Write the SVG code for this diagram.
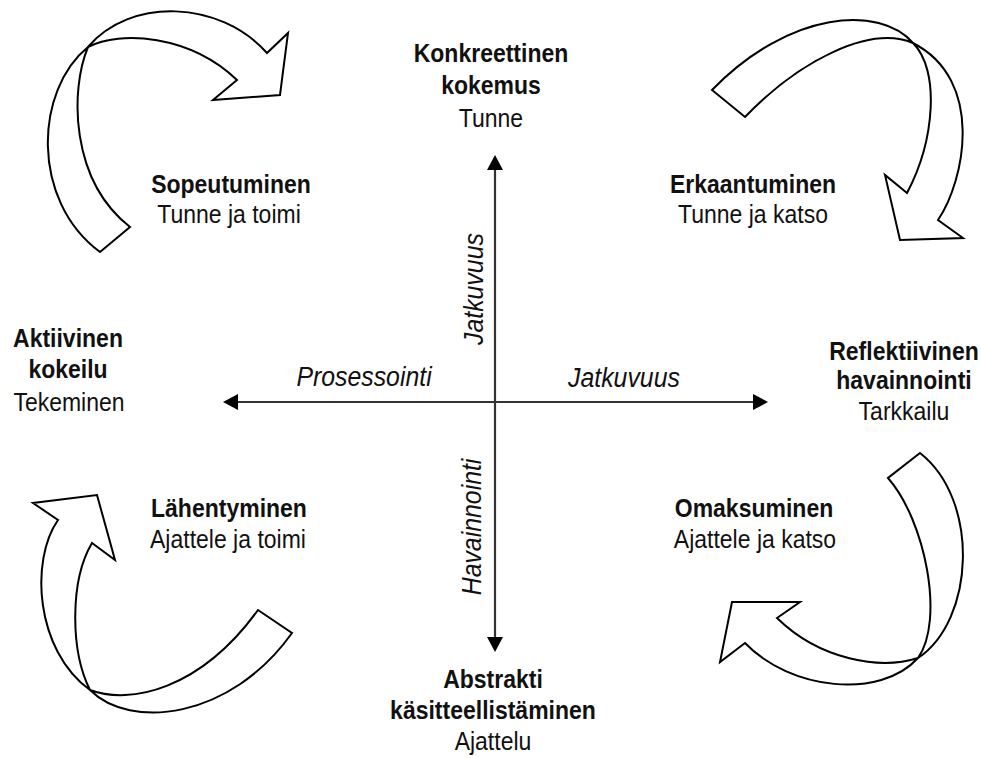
<svg xmlns="http://www.w3.org/2000/svg" width="981" height="758" viewBox="0 0 981 758">
<style>
text{font-family:"Liberation Sans",Arial,sans-serif;font-size:25px;fill:#111;text-anchor:middle;transform-box:fill-box;transform-origin:center;transform:scaleX(0.92)}
.b{font-weight:bold}
.i{font-style:italic;font-size:27px}
.arc{fill:#fff;stroke:#000;stroke-width:2;stroke-linejoin:miter}
.ax{stroke:#333;stroke-width:2.2;fill:none}
.hd{fill:#000}
</style>
<g id="connectors">
<line class="ax" x1="495" y1="168" x2="495" y2="639"/>
<path class="hd" d="M495,155 L503,170 L487,170 Z"/>
<path class="hd" d="M495,652 L503,637 L487,637 Z"/>
<line class="ax" x1="236" y1="402" x2="754" y2="402"/>
<path class="hd" d="M223,402 L238,394 L238,410 Z"/>
<path class="hd" d="M768,402 L753,394 L753,410 Z"/>
</g>
<g id="arrow-topleft">
<path class="arc" d="M237,80 L213,100 L280,95 L288,33 L267,53 C220,0 130,-3 88,47 C70,90 70,180 130,227 L100,252 C30,200 35,90 88,47 C120,30 190,35 237,80 Z"/>
</g>
<g id="arrow-topright">
<path class="arc" d="M907,193 L885,175 L900,240 L963,238 L938,220 C965,180 985,80 913,43 C880,5 790,10 712,90 L745,117 C800,60 870,25 913,43 C940,70 935,140 907,193 Z"/>
</g>
<g id="arrow-bottomleft">
<path class="arc" d="M92,543 L115,560 L97,495 L33,503 L58,520 C30,560 35,650 90,690 C130,730 230,720 292,633 L258,610 C200,690 130,705 90,690 C70,650 70,580 92,543 Z"/>
</g>
<g id="arrow-bottomright">
<path class="arc" d="M777,618 L800,602 L732,602 L720,662 L745,643 C790,690 880,700 918,658 C975,620 980,500 920,453 L888,478 C925,520 945,620 918,658 C880,670 820,660 777,618 Z"/>
</g>
<g id="node-konkreettinen">
<text class="b" x="491" y="62">Konkreettinen</text>
<text class="b" x="491" y="94">kokemus</text>
<text x="491" y="127">Tunne</text>
</g>
<g id="node-aktiivinen">
<text class="b" x="68" y="347">Aktiivinen</text>
<text class="b" x="68" y="378">kokeilu</text>
<text x="69" y="411">Tekeminen</text>
</g>
<g id="node-reflektiivinen">
<text class="b" x="904" y="360">Reflektiivinen</text>
<text class="b" x="904" y="389">havainnointi</text>
<text x="904" y="420">Tarkkailu</text>
</g>
<g id="node-abstrakti">
<text class="b" x="493" y="688">Abstrakti</text>
<text class="b" x="493" y="719">käsitteellistäminen</text>
<text x="493" y="750">Ajattelu</text>
</g>
<g id="node-sopeutuminen">
<text class="b" x="231" y="193">Sopeutuminen</text>
<text x="229" y="223">Tunne ja toimi</text>
</g>
<g id="node-erkaantuminen">
<text class="b" x="753" y="193">Erkaantuminen</text>
<text x="753" y="223">Tunne ja katso</text>
</g>
<g id="node-lahentyminen">
<text class="b" x="229" y="517">Lähentyminen</text>
<text x="228" y="548">Ajattele ja toimi</text>
</g>
<g id="node-omaksuminen">
<text class="b" x="754" y="517">Omaksuminen</text>
<text x="755" y="548">Ajattele ja katso</text>
</g>
<g id="axis-labels">
<text class="i" x="364" y="386">Prosessointi</text>
<text class="i" x="624" y="387">Jatkuvuus</text>
<g transform="translate(483,289) rotate(-90)"><text class="i" x="0" y="0">Jatkuvuus</text></g>
<g transform="translate(481,527) rotate(-90)"><text class="i" x="0" y="0">Havainnointi</text></g>
</g>
</svg>
